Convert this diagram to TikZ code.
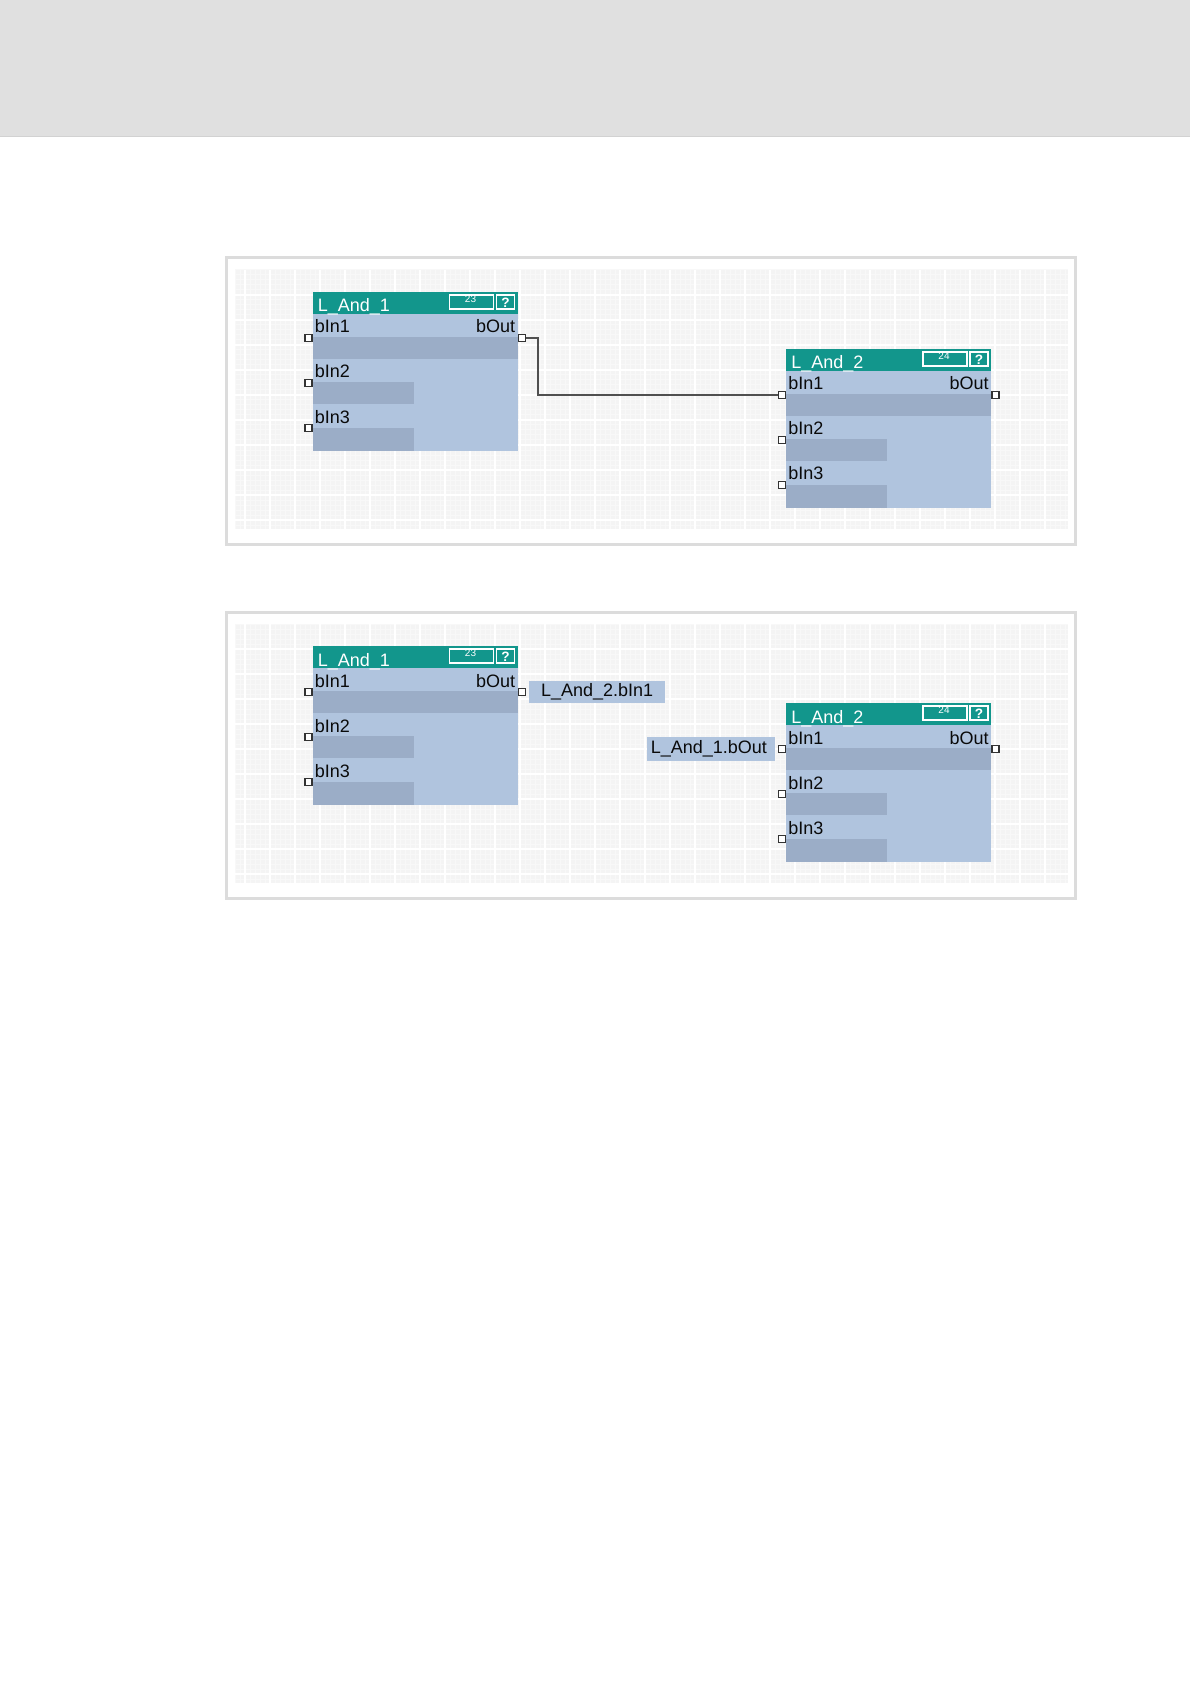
\documentclass[tikz,border=0pt]{standalone}
\usepackage{fontspec}
\setmainfont{Liberation Sans}
\definecolor{hdrgray}{HTML}{E0E0E0}
\definecolor{hdrline}{HTML}{D2D2D2}
\definecolor{framec}{HTML}{DCDCDC}
\definecolor{gridbg}{HTML}{F4F4F4}
\definecolor{gridminor}{HTML}{F8F8F8}
\definecolor{tealc}{RGB}{18,150,140}
\definecolor{bodyc}{RGB}{176,196,222}
\definecolor{barc}{RGB}{155,173,199}
\definecolor{portc}{HTML}{333333}
\definecolor{wirec}{HTML}{505050}
\definecolor{txtc}{HTML}{0A0A0A}
\tikzset{
  maintext/.style={font=\fontsize{9}{10}\selectfont, text=txtc, inner sep=0pt},
  titletext/.style={font=\fontsize{9}{10}\selectfont, text=white, inner sep=0pt},
  numtext/.style={font=\fontsize{5}{5}\selectfont, text=white, inner sep=0pt},
  qtext/.style={font=\fontsize{6.8}{7}\selectfont\bfseries, text=white, inner sep=0pt},
  port/.style={rectangle, draw=portc, fill=white, line width=0.75pt, minimum size=3.6pt, inner sep=0pt},
  wire/.style={draw=wirec, line width=1.1pt},
  lblbox/.style={rectangle, fill=bodyc, font=\fontsize{9}{10}\selectfont, text=txtc, inner sep=0pt},
  panelframe/.style={draw=framec, line width=1.5pt, fill=white},
}
\newcommand{\fbblock}[5]{%
  \begin{scope}[shift={(#2,#3)}]
    \fill[bodyc] (0,0) rectangle (205,159);
    \fill[barc] (0,45) rectangle (205,67);
    \fill[barc] (0,90) rectangle (101,112);
    \fill[barc] (0,136) rectangle (101,159);
    \fill[tealc] (0,0) rectangle (205,22);
    \node[titletext, anchor=base west] (#1title) at (5,20) {#4};
    \draw[white, line width=0.75pt] (137,3) rectangle (181,17);
    \node[numtext] (#1num) at (158,7.5) {#5};
    \draw[white, line width=0.75pt] (184,3) rectangle (202,17);
    \node[qtext] (#1q) at (193,10.5) {?};
    \node[maintext, anchor=base west] (#1lin1) at (2,41) {bIn1};
    \node[maintext, anchor=base east] (#1lout) at (203,41) {bOut};
    \node[maintext, anchor=base west] (#1lin2) at (2,86) {bIn2};
    \node[maintext, anchor=base west] (#1lin3) at (2,131) {bIn3};
    \node[port] (#1in1) at (-4,46) {};
    \node[port] (#1in2) at (-4,91) {};
    \node[port] (#1in3) at (-4,136) {};
    \node[port] (#1out) at (209.5,46) {};
  \end{scope}}
\begin{document}
\begin{tikzpicture}[x=0.5pt,y=-0.5pt]
\useasboundingbox (0,0) rectangle (1190,1684);
% page header
\fill[hdrgray] (0,0) rectangle (1190,136.5);
\draw[hdrline, line width=0.5pt] (0,136.5) -- (1190,136.5);
% panels
\foreach \py in {0,354} {
  \draw[panelframe] (226.5,258+\py) rectangle (1075.5,544.5+\py);
  \fill[gridbg] (235,270+\py) rectangle (1068,529+\py);
  \foreach \gx in {235,240,...,1068} \draw[gridminor, line width=0.5pt] (\gx,270+\py) -- (\gx,529+\py);
  \foreach \gy in {270,275,...,529} \draw[gridminor, line width=0.5pt] (235,\gy+\py) -- (1068,\gy+\py);
  \foreach \gx in {245,270,...,1068} \draw[white, line width=0.7pt] (\gx,270+\py) -- (\gx,529+\py);
  \foreach \gy in {295,320,...,529} \draw[white, line width=0.7pt] (235,\gy+\py) -- (1068,\gy+\py);
}
% panel 1
\fbblock{a1}{312.5}{292}{L\_And\_1}{23}
\fbblock{a2}{786}{349}{L\_And\_2}{24}
\draw[wire] (a1out.east) -- ++(11.5,0) |- (a2in1.west);
% panel 2
\fbblock{b1}{312.5}{646}{L\_And\_1}{23}
\fbblock{b2}{786}{703}{L\_And\_2}{24}
\node[lblbox, anchor=west, minimum width=68pt, minimum height=11.4pt] (lab1) at ([xshift=1.2pt]b1out.east) {L\_And\_2.bIn1};
\node[lblbox, anchor=east, minimum width=64pt, minimum height=12pt, text width=60pt, align=left, inner xsep=2pt] (lab2) at ([xshift=-1.2pt]b2in1.west) {L\_And\_1.bOut};
\end{tikzpicture}
\end{document}
